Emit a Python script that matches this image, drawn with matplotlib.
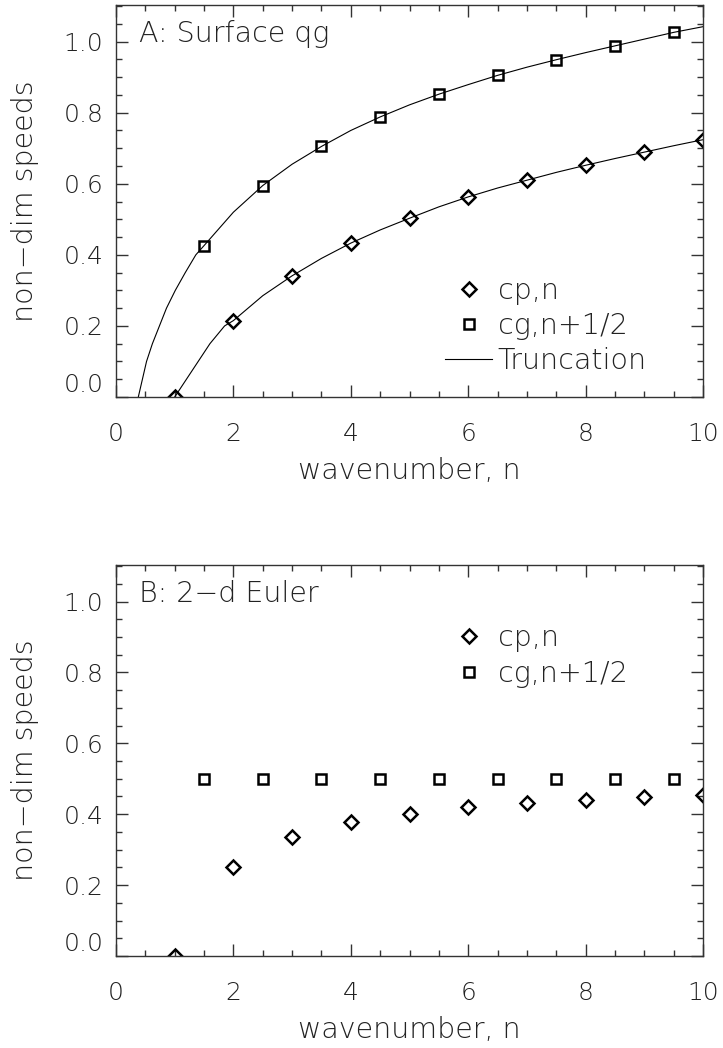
import matplotlib
matplotlib.use("Agg")
import matplotlib.pyplot as plt
import matplotlib.transforms as mtransforms
from matplotlib.lines import Line2D
from matplotlib.ticker import MultipleLocator

plt.rcParams['font.family'] = ['DejaVu Sans']
plt.rcParams['font.weight'] = 200
plt.rcParams['axes.labelweight'] = 200

# ---------------- data ----------------
n_phase = [1, 2, 3, 4, 5, 6, 7, 8, 9, 10]
n_group = [1.5, 2.5, 3.5, 4.5, 5.5, 6.5, 7.5, 8.5, 9.5]

cp_sqg = [0.0, 0.215, 0.341, 0.433, 0.503, 0.563, 0.610, 0.652, 0.689, 0.724]
cg_sqg = [0.426, 0.595, 0.705, 0.788, 0.852, 0.905, 0.949, 0.988, 1.026]

trunc_cp_x = [1.0, 1.2, 1.4, 1.6, 1.85, 2.0, 2.5, 3.0, 3.5, 4.0, 4.5, 5.0,
              5.5, 6.0, 6.5, 7.0, 7.5, 8.0, 8.5, 9.0, 9.5, 10.0]
trunc_cp_y = [0.0, 0.05, 0.10, 0.15, 0.20, 0.215, 0.285, 0.341, 0.390, 0.433,
              0.470, 0.503, 0.535, 0.563, 0.588, 0.610, 0.632, 0.652, 0.671,
              0.689, 0.707, 0.724]

trunc_cg_x = [0.38, 0.45, 0.52, 0.62, 0.74, 0.86, 1.01, 1.18, 1.36, 1.5, 2.0,
              2.5, 3.0, 3.5, 4.0, 4.5, 5.0, 5.5, 6.0, 6.5, 7.0, 7.5, 8.0, 8.5,
              9.0, 9.5, 10.0]
trunc_cg_y = [0.0, 0.05, 0.10, 0.15, 0.20, 0.25, 0.30, 0.35, 0.40, 0.426, 0.52,
              0.595, 0.655, 0.705, 0.750, 0.788, 0.822, 0.852, 0.879, 0.905,
              0.928, 0.949, 0.969, 0.988, 1.007, 1.026, 1.042]

cp_euler = [0.0, 0.252, 0.336, 0.377, 0.401, 0.419, 0.432, 0.441, 0.449, 0.455]
cg_euler = [0.50, 0.50, 0.50, 0.50, 0.50, 0.50, 0.50, 0.50, 0.50]

x_ticks = [0, 2, 4, 6, 8, 10]
x_ticklabels = ['0', '2', '4', '6', '8', '10']
y_ticks = [0.0, 0.2, 0.4, 0.6, 0.8, 1.0]
y_ticklabels = ['0.0', '0.2', '0.4', '0.6', '0.8', '1.0']

panel_titles = ["A: Surface qg", "B: 2\u2212d Euler"]
label_cp = "cp,n"
label_cg = "cg,n+1/2"
label_tr = "Truncation"
xlabel = "wavenumber, n"
ylabel = "non\u2212dim speeds"

# ---------------- layout ----------------
W, H = 723, 1048
fig = plt.figure(figsize=(W / 100, H / 100), dpi=100)

FS_TICK = 18
FS = 20.5
TXT = '#222222'
left, right = 116, 703
axA = fig.add_axes([left / W, (H - 397) / H, (right - left) / W, 392 / H])
axB = fig.add_axes([left / W, (H - 956) / H, (right - left) / W, 391 / H])

dia = dict(marker='D', markersize=7.2, markerfacecolor='none',
           markeredgecolor='black', markeredgewidth=1.8, linestyle='none')
sq = dict(marker='s', markersize=7.5, markerfacecolor='none',
          markeredgecolor='black', markeredgewidth=1.8, linestyle='none')

# Panel A
axA.plot(trunc_cg_x, trunc_cg_y, color='black', lw=0.8)
axA.plot(trunc_cp_x, trunc_cp_y, color='black', lw=0.8)
axA.plot(n_phase, cp_sqg, **dia)
axA.plot(n_group, cg_sqg, **sq)

# Panel B
axB.plot(n_phase, cp_euler, **dia)
axB.plot(n_group, cg_euler, **sq)

for ax, title in zip([axA, axB], panel_titles):
    ax.set_xlim(0, 10)
    ax.set_ylim(0, 1.103)
    ax.xaxis.set_minor_locator(MultipleLocator(0.5))
    ax.yaxis.set_minor_locator(MultipleLocator(0.05))
    ax.set_xticks(x_ticks)
    ax.set_xticklabels(x_ticklabels)
    ax.set_yticks(y_ticks)
    ax.set_yticklabels(y_ticklabels)
    ax.tick_params(which='both', direction='in', top=True, right=True,
                   color='#333333', width=1.0, labelsize=FS_TICK, labelcolor=TXT)
    ax.tick_params(which='major', length=8.5)
    ax.tick_params(which='minor', length=4.5)
    ax.tick_params(axis='y', which='major', pad=9)
    ax.tick_params(axis='x', which='major', pad=18)
    for s in ax.spines.values():
        s.set_linewidth(1.0)
        s.set_color('#333333')
    ax.set_xlabel(xlabel, fontsize=FS, color=TXT, va='center')
    ax.xaxis.set_label_coords(0.5, -74 / 392)
    ax.set_ylabel(ylabel, fontsize=FS, color=TXT, va='center')
    ax.yaxis.set_label_coords(-91 / 587, 0.5)
    ax.text(0.039, 1.02, title, fontsize=FS, color=TXT,
            transform=mtransforms.blended_transform_factory(ax.transAxes, ax.transData),
            va='center', ha='left')
    ax.get_yticklabels()[0].set_verticalalignment('bottom')

hd = Line2D([], [], **dia)
hs = Line2D([], [], **sq)
hl = Line2D([], [], color='black', lw=0.8)

leg_kw = dict(loc='upper left', frameon=False, fontsize=FS, borderpad=0,
              borderaxespad=0, handlelength=1.65, handletextpad=0.2,
              labelspacing=0.26, labelcolor=TXT)
axA.legend([hd, hs, hl], [label_cp, label_cg, label_tr],
           bbox_to_anchor=(0.5605, 0.307), **leg_kw)
axB.legend([hd, hs], [label_cp, label_cg],
           bbox_to_anchor=(0.5605, 0.848), **leg_kw)

fig.savefig("out.png", dpi=100)
